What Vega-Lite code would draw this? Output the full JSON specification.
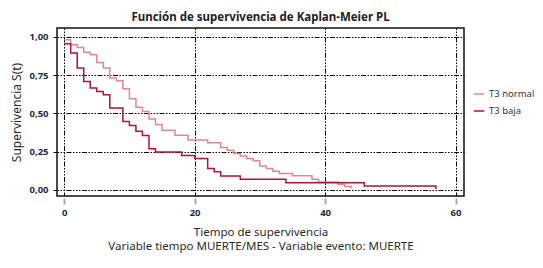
{
  "$schema": "https://vega.github.io/schema/vega-lite/v6.json",
  "autosize": {"type": "none"},
  "padding": {"left": 57, "top": 28, "right": 79, "bottom": 72},
  "width": 407,
  "height": 168,
  "background": "white",
  "title": {
    "text": "Función de supervivencia de Kaplan-Meier PL",
    "font": "Noto Sans",
    "fontSize": 11.5,
    "fontWeight": "bold",
    "color": "#222222",
    "anchor": "middle",
    "offset": 5
  },
  "data": {
    "values": [
      {"group": "T3 normal", "t": 0, "s": 0.98},
      {"group": "T3 normal", "t": 1, "s": 0.948},
      {"group": "T3 normal", "t": 2, "s": 0.93},
      {"group": "T3 normal", "t": 3, "s": 0.898},
      {"group": "T3 normal", "t": 4, "s": 0.883},
      {"group": "T3 normal", "t": 5, "s": 0.832},
      {"group": "T3 normal", "t": 6, "s": 0.795},
      {"group": "T3 normal", "t": 7, "s": 0.73},
      {"group": "T3 normal", "t": 8, "s": 0.713},
      {"group": "T3 normal", "t": 9, "s": 0.66},
      {"group": "T3 normal", "t": 10, "s": 0.595},
      {"group": "T3 normal", "t": 11, "s": 0.54},
      {"group": "T3 normal", "t": 12, "s": 0.512},
      {"group": "T3 normal", "t": 13, "s": 0.462},
      {"group": "T3 normal", "t": 14, "s": 0.427},
      {"group": "T3 normal", "t": 15, "s": 0.39},
      {"group": "T3 normal", "t": 17, "s": 0.357},
      {"group": "T3 normal", "t": 19, "s": 0.325},
      {"group": "T3 normal", "t": 22, "s": 0.308},
      {"group": "T3 normal", "t": 24, "s": 0.277},
      {"group": "T3 normal", "t": 25, "s": 0.258},
      {"group": "T3 normal", "t": 26, "s": 0.238},
      {"group": "T3 normal", "t": 27, "s": 0.222},
      {"group": "T3 normal", "t": 28, "s": 0.205},
      {"group": "T3 normal", "t": 29, "s": 0.19},
      {"group": "T3 normal", "t": 30, "s": 0.156},
      {"group": "T3 normal", "t": 31, "s": 0.14},
      {"group": "T3 normal", "t": 32, "s": 0.122},
      {"group": "T3 normal", "t": 33, "s": 0.107},
      {"group": "T3 normal", "t": 35, "s": 0.092},
      {"group": "T3 normal", "t": 38, "s": 0.069},
      {"group": "T3 normal", "t": 39, "s": 0.052},
      {"group": "T3 normal", "t": 42, "s": 0.037},
      {"group": "T3 normal", "t": 43, "s": 0.022},
      {"group": "T3 normal", "t": 44, "s": 0.01},
      {"group": "T3 baja", "t": 0, "s": 0.954},
      {"group": "T3 baja", "t": 1, "s": 0.893},
      {"group": "T3 baja", "t": 2, "s": 0.795},
      {"group": "T3 baja", "t": 3, "s": 0.708},
      {"group": "T3 baja", "t": 4, "s": 0.665},
      {"group": "T3 baja", "t": 5, "s": 0.643},
      {"group": "T3 baja", "t": 6, "s": 0.621},
      {"group": "T3 baja", "t": 7, "s": 0.534},
      {"group": "T3 baja", "t": 9, "s": 0.447},
      {"group": "T3 baja", "t": 10, "s": 0.421},
      {"group": "T3 baja", "t": 11, "s": 0.382},
      {"group": "T3 baja", "t": 12, "s": 0.355},
      {"group": "T3 baja", "t": 13, "s": 0.268},
      {"group": "T3 baja", "t": 14, "s": 0.248},
      {"group": "T3 baja", "t": 18, "s": 0.225},
      {"group": "T3 baja", "t": 20, "s": 0.205},
      {"group": "T3 baja", "t": 22, "s": 0.14},
      {"group": "T3 baja", "t": 23, "s": 0.118},
      {"group": "T3 baja", "t": 24, "s": 0.09},
      {"group": "T3 baja", "t": 27, "s": 0.07},
      {"group": "T3 baja", "t": 34, "s": 0.047},
      {"group": "T3 baja", "t": 46, "s": 0.026},
      {"group": "T3 baja", "t": 57, "s": 0.006}
    ]
  },
  "mark": {"type": "line", "interpolate": "step-after", "strokeWidth": 1.5},
  "encoding": {
    "x": {
      "field": "t",
      "type": "quantitative",
      "scale": {"domain": [-1.1, 61.3], "nice": false, "zero": false},
      "axis": {
        "values": [0, 20, 40, 60],
        "title": ["Tiempo de supervivencia", "Variable tiempo MUERTE/MES - Variable evento: MUERTE"],
        "titleFont": "Noto Sans",
        "titleFontSize": 11.5,
        "titleFontWeight": "normal",
        "titleColor": "#2a2a2a",
        "titleLineHeight": 14,
        "titlePadding": 10,
        "domain": false,
        "offset": 2,
        "tickSize": 6,
        "tickWidth": 2,
        "tickColor": "#aaaaaa",
        "labelPadding": 3,
        "labelFont": "Noto Sans",
        "labelFontSize": 9.5,
        "labelFontWeight": "bold",
        "labelColor": "#1f2a44",
        "grid": true,
        "gridColor": "#000000",
        "gridOpacity": 1,
        "gridWidth": 1,
        "gridDash": [1.5, 1.5, 1.5, 1.5, 1.5, 1.5, 5, 1.5]
      }
    },
    "y": {
      "field": "s",
      "type": "quantitative",
      "scale": {"domain": [-0.04, 1.057], "nice": false, "zero": false},
      "axis": {
        "values": [0, 0.25, 0.5, 0.75, 1],
        "labelExpr": "replace(format(datum.value, '.2f'), '.', ',')",
        "title": "Supervivencia S(t)",
        "titleFont": "Noto Sans",
        "titleFontSize": 12,
        "titleFontWeight": "normal",
        "titleColor": "#2a2a2a",
        "titlePadding": 5,
        "domain": false,
        "tickSize": 4,
        "tickColor": "#000000",
        "labelPadding": 5,
        "labelFont": "Noto Sans",
        "labelFontSize": 9.5,
        "labelFontWeight": "bold",
        "labelColor": "#1f2a44",
        "grid": true,
        "gridColor": "#000000",
        "gridOpacity": 1,
        "gridWidth": 1,
        "gridDash": [1.5, 1.5, 1.5, 1.5, 1.5, 1.5, 5, 1.5]
      }
    },
    "color": {
      "field": "group",
      "type": "nominal",
      "sort": ["T3 normal", "T3 baja"],
      "scale": {"domain": ["T3 normal", "T3 baja"], "range": ["#df8890", "#b3103e"]},
      "legend": {
        "title": null,
        "orient": "none",
        "legendX": 416,
        "legendY": 60,
        "symbolType": "stroke",
        "symbolStrokeWidth": 1.5,
        "symbolSize": 110,
        "labelFont": "Noto Sans",
        "labelFontSize": 9.5,
        "labelColor": "#333333",
        "rowPadding": 6
      }
    }
  },
  "config": {
    "view": {"stroke": "#111111", "strokeWidth": 1.5}
  }
}
